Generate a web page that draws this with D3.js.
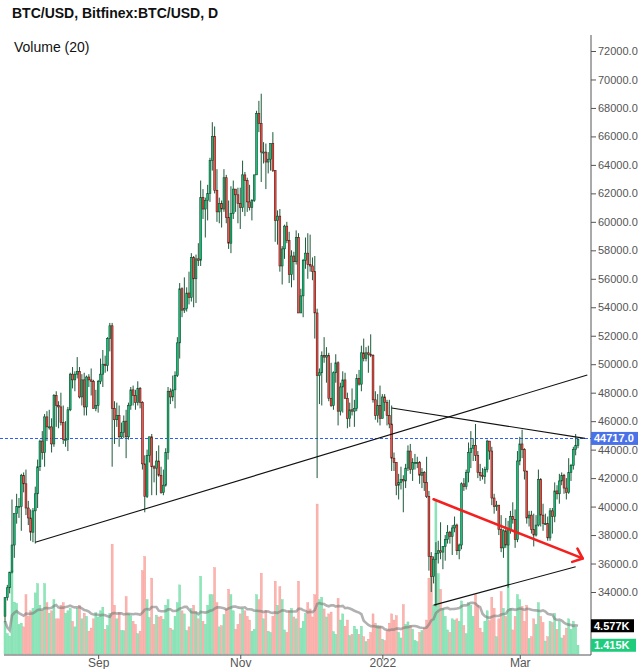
<!DOCTYPE html>
<html>
<head>
<meta charset="utf-8">
<script src="https://cdn.jsdelivr.net/npm/d3@7"></script>
<style>
  body { margin: 0; background: #fff; }
  svg { display: block; font-family: "Liberation Sans", Arial, sans-serif; }
</style>
</head>
<body>
<svg id="chart" width="644" height="669"></svg>
<script>
// BTC/USD daily, Bitfinex. prices in thousands of USD, volume in thousands of BTC
const startDay = "2021-07-23";

const opens = [
  32.3, 33.6, 34.3, 35.4, 37.3, 39.5, 40.0, 40.0, 42.2,
  41.6, 39.9, 39.2, 38.2, 39.7, 40.9, 42.8, 44.6, 43.8, 46.3, 45.6, 45.6, 44.4, 47.8, 47.1, 47.0, 45.9, 44.7, 44.7, 46.8, 49.3, 48.9, 49.3, 49.5, 47.7, 48.9, 47.0, 49.1, 48.9, 48.8, 46.9,
  47.1, 48.8, 49.3, 50.0, 49.9, 51.8, 52.7, 46.9, 46.1, 46.4, 44.9, 45.2, 46.0, 44.9, 47.1, 48.2, 47.8, 47.3, 48.3, 47.3, 43.0, 40.7, 43.6, 44.9, 42.8, 42.7, 43.2, 42.2, 41.0, 41.5,
  43.8, 48.1, 47.7, 48.2, 49.2, 51.5, 55.3, 53.8, 53.9, 55.0, 54.7, 57.5, 56.0, 57.4, 57.3, 61.7, 60.9, 61.5, 62.0, 64.3, 66.0, 62.2, 60.7, 61.3, 60.9, 63.1, 60.3, 58.5, 60.6, 62.3, 61.9,
  61.3, 61.0, 63.3, 62.9, 61.4, 61.0, 61.5, 63.3, 67.6, 66.9, 64.9, 64.9, 64.2, 64.4, 65.5, 63.6, 60.1, 60.4, 56.9, 58.1, 59.7, 58.7, 56.3, 57.6, 57.2, 58.9, 53.6, 54.8, 57.3, 57.8,
  57.0, 56.9, 56.5, 53.6, 49.2, 49.4, 50.6, 50.5, 50.6, 47.6, 47.1, 49.4, 50.1, 46.7, 48.4, 48.9, 47.6, 46.2, 46.8, 46.7, 46.9, 49.0, 48.6, 50.8, 50.4, 50.8, 50.7, 50.6, 47.5, 46.4, 47.1,
  46.2, 47.7, 47.3, 46.4, 45.8, 43.4, 43.1, 41.5, 41.7, 41.9, 41.8, 42.7, 43.9, 42.6, 43.1, 43.1, 43.1, 42.2, 42.4, 41.7, 40.7, 36.5, 35.1, 36.3, 36.7, 36.9, 36.8, 37.2, 37.7, 38.2, 37.9,
  38.5, 38.7, 36.9, 37.3, 41.6, 41.4, 42.4, 43.8, 44.1, 44.3, 43.6, 42.4, 42.2, 42.1, 42.6, 44.6, 43.9, 40.6, 40.0, 40.1, 38.4, 37.1, 38.3, 37.3, 38.4, 39.3, 39.1, 37.7,
  43.2, 44.4, 44.0, 42.5, 39.2, 39.4, 38.4, 38.0, 38.7, 41.9, 39.4, 38.8, 38.8, 37.8, 39.7, 39.3, 41.1, 40.9, 41.8, 42.2, 41.3, 41.0, 42.4, 42.9, 44.0, 44.3
];

const highs = [
  33.6, 34.5, 35.4, 40.5, 39.5, 40.9, 40.6, 42.3, 42.4,
  42.6, 40.4, 39.8, 39.9, 41.4, 43.3, 44.7, 45.3, 46.5, 46.7, 46.8, 46.2, 47.9, 48.1, 47.4, 48.0, 47.1, 46.0, 47.0, 49.4, 49.8, 49.5, 50.5, 49.8, 49.3, 49.4, 49.2, 49.3, 49.7, 48.9, 48.2,
  48.9, 50.4, 51.0, 50.6, 51.9, 52.9, 52.9, 47.4, 47.3, 47.1, 45.9, 46.4, 46.8, 47.3, 48.4, 48.5, 48.2, 48.8, 48.4, 47.4, 43.6, 44.0, 44.9, 45.1, 42.9, 43.9, 44.3, 42.8, 42.6, 44.1,
  48.4, 48.3, 49.2, 49.5, 51.9, 55.7, 55.4, 56.1, 55.4, 56.5, 57.8, 57.6, 57.7, 58.5, 62.9, 62.3, 61.7, 62.6, 64.5, 67.0, 66.7, 63.7, 61.7, 61.5, 63.7, 63.3, 61.5, 62.5, 62.9, 62.3, 62.4,
  62.4, 64.3, 63.5, 63.1, 62.6, 61.6, 63.3, 67.8, 68.5, 69.0, 65.6, 65.5, 64.9, 65.5, 66.3, 63.6, 60.8, 60.9, 58.3, 59.8, 60.0, 59.3, 58.0, 57.9, 59.4, 59.2, 55.3, 57.4, 58.9, 59.2,
  59.1, 57.5, 57.6, 53.9, 49.7, 50.9, 51.9, 51.2, 50.8, 50.1, 49.5, 50.7, 50.2, 48.7, 49.5, 49.4, 48.0, 47.3, 48.3, 47.5, 49.3, 49.6, 51.3, 51.8, 51.2, 51.3, 52.1, 50.7, 48.1, 47.9, 48.5,
  47.9, 47.9, 47.5, 47.5, 47.1, 43.8, 43.1, 42.3, 42.8, 42.2, 43.0, 44.3, 44.4, 43.4, 43.7, 43.5, 43.2, 42.7, 42.5, 43.5, 41.1, 36.8, 36.5, 37.5, 37.6, 38.9, 37.2, 38.0, 38.7, 38.3, 38.7,
  39.3, 38.8, 37.4, 41.7, 42.0, 42.6, 44.5, 45.3, 44.8, 45.8, 43.9, 43.0, 42.7, 42.8, 44.7, 44.6, 44.2, 40.9, 40.4, 40.1, 39.4, 38.4, 39.2, 39.0, 39.7, 40.3, 39.8, 43.9,
  44.9, 45.4, 44.1, 42.5, 39.7, 39.7, 39.5, 39.4, 42.6, 42.0, 40.2, 39.5, 39.3, 39.9, 39.9, 41.7, 41.5, 42.3, 42.4, 42.3, 42.0, 43.4, 43.0, 44.2, 45.1, 44.8
];

const lows = [
  31.9, 33.4, 33.9, 35.3, 36.4, 38.8, 39.2, 38.3, 41.0,
  39.4, 38.7, 37.6, 37.5, 37.4, 39.9, 42.5, 43.3, 42.8, 44.6, 45.4, 43.8, 44.2, 45.6, 45.5, 45.7, 44.4, 44.2, 43.9, 46.7, 48.3, 48.1, 49.0, 47.6, 47.1, 46.4, 46.4, 48.4, 47.8, 46.9, 46.7,
  46.6, 48.6, 48.4, 49.4, 49.5, 50.9, 42.8, 44.4, 45.6, 44.2, 44.8, 44.8, 43.4, 44.7, 46.8, 47.1, 46.8, 47.1, 46.9, 42.6, 39.6, 40.6, 43.1, 40.8, 41.7, 40.8, 42.1, 40.9, 40.8, 41.4,
  43.3, 47.2, 47.4, 46.9, 49.1, 50.4, 53.3, 53.6, 53.7, 54.2, 54.4, 54.0, 54.3, 56.9, 56.9, 60.2, 58.9, 60.1, 61.4, 63.6, 62.0, 60.0, 59.9, 59.6, 60.7, 59.9, 58.1, 57.8, 60.2, 60.7, 59.9,
  59.5, 60.7, 60.4, 60.7, 60.8, 60.1, 61.4, 63.3, 66.3, 62.8, 64.1, 62.3, 63.4, 63.6, 63.5, 58.6, 58.4, 56.5, 55.6, 57.4, 58.5, 55.7, 55.4, 55.9, 57.0, 53.6, 53.6, 53.3, 56.7, 56.0,
  56.5, 55.9, 51.8, 42.0, 47.2, 47.1, 50.1, 48.7, 47.4, 47.0, 46.8, 48.7, 45.7, 46.4, 46.6, 47.6, 45.5, 45.6, 46.4, 45.6, 46.7, 48.5, 48.1, 50.2, 50.2, 49.4, 50.5, 47.3, 46.1, 45.9, 45.7,
  46.2, 46.7, 45.7, 45.5, 42.5, 42.5, 40.8, 40.5, 41.2, 39.6, 41.3, 42.5, 42.3, 41.8, 42.6, 42.7, 41.6, 41.3, 41.1, 40.6, 35.5, 34.0, 34.6, 33.0, 36.0, 36.3, 35.6, 36.2, 37.4, 37.4, 36.6,
  38.2, 36.6, 36.3, 37.0, 41.1, 41.2, 41.7, 42.7, 43.2, 43.2, 42.0, 41.8, 41.9, 41.6, 42.4, 43.3, 40.1, 39.5, 39.7, 38.0, 36.8, 36.4, 37.1, 34.3, 38.1, 38.8, 37.1, 37.5,
  42.9, 43.4, 41.9, 38.8, 38.6, 38.1, 37.2, 37.9, 38.6, 38.6, 38.3, 38.7, 37.6, 37.6, 38.1, 38.9, 40.5, 40.2, 41.5, 40.9, 40.5, 40.9, 41.8, 42.6, 43.6, 44.1
];

const closes = [
  33.6, 34.3, 35.4, 37.3, 39.5, 40.0, 40.0, 42.2, 41.6,
  39.9, 39.2, 38.2, 39.7, 40.9, 42.8, 44.6, 43.8, 46.3, 45.6, 45.6, 44.4, 47.8, 47.1, 47.0, 45.9, 44.7, 44.7, 46.8, 49.3, 48.9, 49.3, 49.5, 47.7, 48.9, 47.0, 49.1, 48.9, 48.8, 46.9, 47.1,
  48.8, 49.3, 50.0, 49.9, 51.8, 52.7, 46.9, 46.1, 46.4, 44.9, 45.2, 46.0, 44.9, 47.1, 48.2, 47.8, 47.3, 48.3, 47.3, 43.0, 40.7, 43.6, 44.9, 42.8, 42.7, 43.2, 42.2, 41.0, 41.5, 43.8,
  48.1, 47.7, 48.2, 49.2, 51.5, 55.3, 53.8, 53.9, 55.0, 54.7, 57.5, 56.0, 57.4, 57.3, 61.7, 60.9, 61.5, 62.0, 64.3, 66.0, 62.2, 60.7, 61.3, 60.9, 63.1, 60.3, 58.5, 60.6, 62.3, 61.9, 61.3,
  61.0, 63.3, 62.9, 61.4, 61.0, 61.5, 63.3, 67.6, 66.9, 64.9, 64.9, 64.2, 64.4, 65.5, 63.6, 60.1, 60.4, 56.9, 58.1, 59.7, 58.7, 56.3, 57.6, 57.2, 58.9, 53.6, 54.8, 57.3, 57.8, 57.0,
  56.9, 56.5, 53.6, 49.2, 49.4, 50.6, 50.5, 50.6, 47.6, 47.1, 49.4, 50.1, 46.7, 48.4, 48.9, 47.6, 46.2, 46.8, 46.7, 46.9, 49.0, 48.6, 50.8, 50.4, 50.8, 50.7, 50.6, 47.5, 46.4, 47.1, 46.2,
  47.7, 47.3, 46.4, 45.8, 43.4, 43.1, 41.5, 41.7, 41.9, 41.8, 42.7, 43.9, 42.6, 43.1, 43.1, 43.1, 42.2, 42.4, 41.7, 40.7, 36.5, 35.1, 36.3, 36.7, 36.9, 36.8, 37.2, 37.7, 38.2, 37.9, 38.5,
  38.7, 36.9, 37.3, 41.6, 41.4, 42.4, 43.8, 44.1, 44.3, 43.6, 42.4, 42.2, 42.1, 42.6, 44.6, 43.9, 40.6, 40.0, 40.1, 38.4, 37.1, 38.3, 37.3, 38.4, 39.3, 39.1, 37.7, 43.2,
  44.4, 44.0, 42.5, 39.2, 39.4, 38.4, 38.0, 38.7, 41.9, 39.4, 38.8, 38.8, 37.8, 39.7, 39.3, 41.1, 40.9, 41.8, 42.2, 41.3, 41.0, 42.4, 42.9, 44.0, 44.3, 44.717
];

const volumes = [
  5.3, 3.3, 2.9, 13.5, 8.4, 8.2, 4.8, 5.0, 4.4,
  9.6, 6.1, 7.0, 7.4, 9.9, 11.4, 7.9, 7.0, 11.4, 8.3, 6.6, 7.0, 8.8, 5.7, 5.7, 7.9, 8.3, 6.6, 7.0, 7.4, 5.3, 4.4, 7.4, 7.9, 5.7, 6.6, 6.1, 3.7, 4.2, 5.7, 6.7,
  6.0, 7.0, 7.6, 4.0, 4.6, 6.6, 17.8, 7.9, 5.7, 6.7, 3.8, 3.8, 9.3, 6.5, 6.2, 5.3, 4.8, 3.3, 3.7, 13.5, 15.8, 8.8, 5.9, 12.3, 4.8, 6.3, 6.0, 6.1, 5.6, 7.9,
  8.8, 4.2, 3.9, 6.1, 8.3, 11.2, 7.0, 6.5, 3.8, 4.4, 7.4, 7.9, 6.8, 5.7, 12.6, 5.3, 4.8, 7.9, 9.6, 9.6, 14.0, 8.3, 4.4, 4.6, 6.4, 7.3, 10.5, 9.6, 7.0, 4.0, 4.8,
  6.5, 7.3, 7.0, 6.1, 5.5, 3.7, 4.0, 9.6, 8.8, 13.1, 5.7, 7.0, 3.7, 3.5, 6.1, 11.8, 7.9, 10.9, 8.8, 3.9, 3.5, 7.0, 7.4, 6.0, 5.7, 11.8, 4.2, 5.3, 6.6, 8.3,
  7.3, 6.0, 9.6, 24.3, 8.8, 9.2, 7.3, 6.0, 6.5, 6.8, 3.6, 3.2, 9.0, 5.5, 6.5, 4.5, 5.5, 3.0, 3.2, 4.5, 4.0, 3.2, 4.5, 2.8, 2.0, 2.4, 3.5, 6.5, 5.0, 4.6, 4.5,
  2.4, 2.2, 3.8, 5.0, 6.5, 5.5, 6.2, 3.5, 2.6, 8.0, 4.8, 5.2, 4.6, 4.0, 2.2, 2.0, 3.5, 3.8, 4.2, 5.5, 12.3, 15.8, 7.9, 24.9, 13.0, 10.5, 7.4, 6.1, 3.9, 3.5, 5.7,
  5.5, 5.7, 5.3, 8.6, 4.6, 3.3, 8.3, 7.9, 6.1, 9.6, 7.9, 4.2, 3.5, 5.3, 7.0, 5.4, 9.2, 7.4, 2.8, 5.7, 10.1, 7.4, 6.1, 20.1, 7.4, 3.9, 6.1, 9.6,
  8.8, 7.7, 5.3, 7.9, 2.5, 2.8, 5.7, 4.8, 8.3, 6.1, 5.1, 2.1, 2.8, 5.3, 5.1, 6.6, 4.0, 5.3, 2.6, 3.0, 4.2, 5.7, 4.0, 5.3, 4.4, 1.415
];

const maPeriod = 20;
const maLastLabel = 4.577;

const priceTicks = [34, 36, 38, 40, 42, 44, 46, 48, 50, 52, 54, 56, 58, 60, 62, 64, 66, 68, 70, 72];
const monthTicks = ["2021-09-01", "2021-11-01", "2022-01-01", "2022-03-01"];

// drawings on the chart: [date, price]
const blackLines = [
  [["2021-08-05", 37.5], ["2022-03-30", 49.24]],
  [["2022-01-05", 46.92], ["2022-03-29", 44.79]],
  [["2022-01-23", 33.08], ["2022-03-25", 35.78]]
];
const redArrow = [["2022-01-23", 40.51], ["2022-03-28", 36.36]];

const svg = d3.select("#chart");
const plotRight = 591, plotTop = 35, axisY = 655;
const parse = d3.utcParse("%Y-%m-%d");

const day0 = parse(startDay);
const days = d3.utcDay.range(day0, d3.utcDay.offset(day0, closes.length));
const bars = days.map((d, i) => ({
  date: d, o: opens[i], h: highs[i], l: lows[i], c: closes[i], v: volumes[i]
}));
const lastPrice = closes[closes.length - 1];
const lastVol = volumes[volumes.length - 1];

const x = d3.scaleUtc().domain([days[0], days[days.length - 1]]).range([5, 578]);
const y = d3.scaleLinear().domain([34, 72]).range([592, 51]);
const yv = d3.scaleLinear().domain([0, 25]).range([654, 499.75]);

svg.append("defs").append("clipPath").attr("id", "plotclip")
  .append("rect").attr("x", 0).attr("y", plotTop)
  .attr("width", plotRight).attr("height", axisY - plotTop);

const plot = svg.append("g").attr("clip-path", "url(#plotclip)");

// volume bars
plot.append("g").selectAll("rect").data(bars).join("rect")
  .attr("x", d => x(d.date) - 1)
  .attr("width", 2)
  .attr("y", d => yv(d.v))
  .attr("height", d => yv(0) - yv(d.v))
  .attr("fill", d => d.c >= d.o ? "#8ee6ba" : "#fcb4af")
  .attr("stroke", d => d.c >= d.o ? "#6fd9a4" : "#f59a94")
  .attr("stroke-width", 0.4);

// volume moving average
const ma = bars.map((d, i) => ({
  date: d.date,
  v: d3.mean(volumes.slice(Math.max(0, i - maPeriod + 1), i + 1))
}));
plot.append("path").datum(ma)
  .attr("fill", "none")
  .attr("stroke", "#7d7d7d")
  .attr("stroke-opacity", 0.6)
  .attr("stroke-width", 2.6)
  .attr("d", d3.line().x(d => x(d.date)).y(d => yv(d.v)));

// last price line
const lastY = Math.round(y(lastPrice)) - 0.5;
plot.append("line")
  .attr("x1", 0).attr("x2", plotRight)
  .attr("y1", lastY).attr("y2", lastY)
  .attr("stroke", "#2a5cff").attr("stroke-width", 1)
  .attr("stroke-dasharray", "3,2");

// candles
const candle = plot.append("g").selectAll("g").data(bars).join("g");
candle.append("line")
  .attr("x1", d => x(d.date)).attr("x2", d => x(d.date))
  .attr("y1", d => y(d.h)).attr("y2", d => y(d.l))
  .attr("stroke", "#1d5a3a").attr("stroke-width", 1);
candle.append("rect")
  .attr("x", d => x(d.date) - 0.9)
  .attr("width", 1.8)
  .attr("y", d => y(Math.max(d.o, d.c)))
  .attr("height", d => Math.max(1, Math.abs(y(d.o) - y(d.c))))
  .attr("fill", d => d.c >= d.o ? "#12c27a" : "#f2574c")
  .attr("stroke", d => d.c >= d.o ? "#0e4a2c" : "#5a1512")
  .attr("stroke-width", 0.6);

// trend lines
const pt = p => [x(parse(p[0])), y(p[1])];
plot.append("g").selectAll("line").data(blackLines).join("line")
  .attr("x1", d => pt(d[0])[0]).attr("y1", d => pt(d[0])[1])
  .attr("x2", d => pt(d[1])[0]).attr("y2", d => pt(d[1])[1])
  .attr("stroke", "#111").attr("stroke-width", 1.1);

// red arrow
const a0 = pt(redArrow[0]), a1 = pt(redArrow[1]);
const ang = Math.atan2(a1[1] - a0[1], a1[0] - a0[0]);
const headLen = 11, spread = 0.7;
const arm = s => [a1[0] - headLen * Math.cos(ang + s), a1[1] - headLen * Math.sin(ang + s)];
const arrowG = plot.append("g")
  .attr("stroke", "#f41f1f").attr("stroke-width", 2.6)
  .attr("fill", "none").attr("stroke-linecap", "round");
arrowG.append("line").attr("x1", a0[0]).attr("y1", a0[1]).attr("x2", a1[0]).attr("y2", a1[1]);
arrowG.append("path")
  .attr("stroke-linejoin", "round")
  .attr("d", d3.line()([arm(spread), a1, arm(-spread)]));

// price axis
const yAxis = d3.axisRight(y)
  .tickValues(priceTicks)
  .tickSize(5)
  .tickPadding(2)
  .tickFormat(d => (d * 1000).toFixed(1));
const yg = svg.append("g").attr("transform", `translate(${plotRight},0)`).call(yAxis);
yg.select(".domain").remove();
yg.selectAll("line").attr("stroke", "#555");
yg.selectAll("text").attr("fill", "#555").style("font-size", "11px");
svg.append("line")
  .attr("x1", plotRight).attr("x2", plotRight)
  .attr("y1", plotTop).attr("y2", axisY)
  .attr("stroke", "#555");

// time axis
const xAxis = d3.axisBottom(x)
  .tickValues(monthTicks.map(parse))
  .tickSize(4)
  .tickFormat(d => d.getUTCMonth() === 0 ? d3.utcFormat("%Y")(d) : d3.utcFormat("%b")(d));
const xg = svg.append("g").attr("transform", `translate(0,${axisY})`).call(xAxis);
xg.select(".domain").remove();
xg.selectAll("line").attr("stroke", "#555");
xg.selectAll("text").attr("fill", "#555").attr("y", 11.5).attr("dy", 0).style("font-size", "12px");
svg.append("line")
  .attr("x1", 4).attr("x2", plotRight)
  .attr("y1", axisY).attr("y2", axisY)
  .attr("stroke", "#555");

// value labels on the right scale
function tag(yPos, text, fill, w) {
  const g = svg.append("g");
  g.append("rect").attr("x", plotRight).attr("y", yPos - 6.5)
    .attr("width", w).attr("height", 13).attr("fill", fill);
  g.append("text").attr("x", plotRight + 3).attr("y", yPos).attr("dy", "0.35em")
    .attr("fill", "#fff").style("font-size", "11px").style("font-weight", "bold")
    .text(text);
}
tag(y(lastPrice) - 1, (lastPrice * 1000).toFixed(1), "#4a72e8", 47);
tag(yv(maLastLabel), maLastLabel.toFixed(3) + "K", "#000", 43);
tag(yv(lastVol), lastVol.toFixed(3) + "K", "#1fcc7c", 45);

// titles
svg.append("text").attr("x", 12).attr("y", 18)
  .style("font-size", "14px").style("font-weight", "bold").attr("fill", "#111")
  .text("BTC/USD, Bitfinex:BTC/USD, D");
svg.append("text").attr("x", 14).attr("y", 52)
  .style("font-size", "14px").attr("fill", "#111")
  .text("Volume (20)");
</script>
</body>
</html>
